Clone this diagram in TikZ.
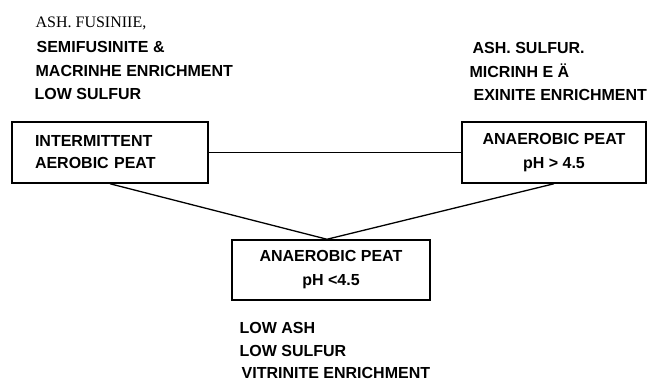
\documentclass[tikz,border=0pt]{standalone}
\usepackage{fontspec}
\setsansfont{Liberation Sans}
\newfontfamily\oldface{Liberation Serif}
\usetikzlibrary{positioning}

\tikzset{
  box/.style={draw,line width=1.5pt,inner sep=0pt,minimum height=61pt,
              font=\fontsize{16}{24}\sffamily\bfseries},
  note/.style={anchor=base west,inner sep=0pt,
               font=\fontsize{16}{18}\sffamily\bfseries},
}

\begin{document}
\begin{tikzpicture}[x=1pt,y=-1pt,line width=1.3pt]
    \useasboundingbox (0,0) rectangle (648,381);
    % peat boxes
    \node[box,text width=150pt,inner xsep=23pt,align=left,
          font=\fontsize{16}{22}\sffamily\bfseries] (aerobic) at (110,152.5)
        {INTERMITTENT\\AEROBIC PEAT};
    \node[box,minimum width=184pt,align=center] (highph) at (554,152.5)
        {ANAEROBIC PEAT\\pH > 4.5};
    \node[box,minimum width=198pt,minimum height=60pt,align=center] (lowph) at (331,270)
        {ANAEROBIC PEAT\\pH <4.5};
    \path (lowph.north) ++(-4,0) coordinate (meet);
    \draw (aerobic) -- (highph);
    \draw (aerobic.south) -- (meet) -- (highph.south);
    % enrichment notes
    \node[note,font=\fontsize{16}{18}\oldface] (ash1) at (35,27) {ASH. FUSINIIE,};
    \node[note] (semi) at (36,52) {SEMIFUSINITE \&};
    \node[note] (macri) at (35,76) {MACRINHE ENRICHMENT};
    \node[note] (sulf1) at (34,99) {LOW SULFUR};
    \node[note] (ash2) at (472,53) {ASH. SULFUR.};
    \node[note] (micri) at (469,77) {MICRINH E Ä};
    \node[note] (exin) at (473,100) {EXINITE ENRICHMENT};
    \node[note] (lowash) at (239,333) {LOW ASH};
    \node[note] (sulf2) at (239,356) {LOW SULFUR};
    \node[note] (vitr) at (241,378) {VITRINITE ENRICHMENT};
\end{tikzpicture}
\end{document}
